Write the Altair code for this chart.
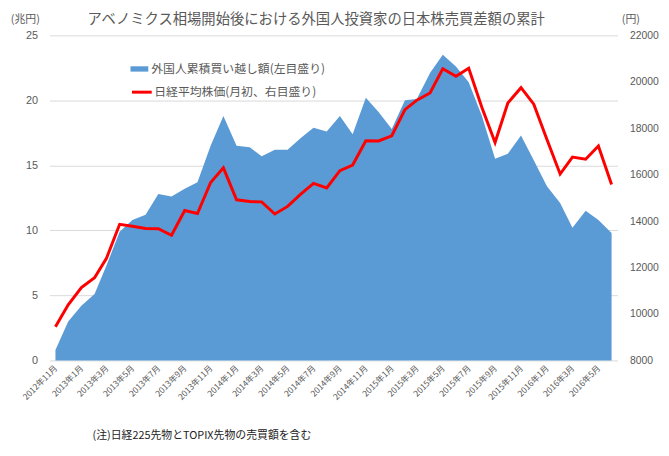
import altair as alt
import pandas as pd

# ---- data ----
months = [
    "2012-11", "2012-12",
    "2013-01", "2013-02", "2013-03", "2013-04", "2013-05", "2013-06",
    "2013-07", "2013-08", "2013-09", "2013-10", "2013-11", "2013-12",
    "2014-01", "2014-02", "2014-03", "2014-04", "2014-05", "2014-06",
    "2014-07", "2014-08", "2014-09", "2014-10", "2014-11", "2014-12",
    "2015-01", "2015-02", "2015-03", "2015-04", "2015-05", "2015-06",
    "2015-07", "2015-08", "2015-09", "2015-10", "2015-11", "2015-12",
    "2016-01", "2016-02", "2016-03", "2016-04", "2016-05", "2016-06",
]

# cumulative net purchases by foreign investors (trillion yen, left axis)
foreign_cum = [
    0.8, 3.0, 4.2, 5.1, 7.3, 9.9, 10.8, 11.2, 12.8, 12.6, 13.2, 13.7,
    16.5, 18.8, 16.5, 16.4, 15.7, 16.2, 16.2, 17.1, 17.9, 17.6, 18.8, 17.4,
    20.2, 19.1, 17.8, 20.0, 20.1, 22.1, 23.5, 22.6, 21.4, 18.8, 15.5, 15.9,
    17.3, 15.4, 13.4, 12.1, 10.2, 11.5, 10.8, 9.8,
]

# Nikkei average (yen, right axis)
nikkei = [
    9446, 10395, 11139, 11559, 12398, 13861, 13775, 13677, 13668, 13389,
    14456, 14328, 15662, 16291, 14915, 14841, 14828, 14304, 14632, 15162,
    15621, 15425, 16174, 16414, 17460, 17451, 17674, 18798, 19207, 19520,
    20563, 20236, 20585, 18890, 17388, 19083, 19747, 19034, 17518, 16027,
    16759, 16666, 17235, 15576,
]

left_ticks = [0, 5, 10, 15, 20, 25]
right_ticks = [8000, 10000, 12000, 14000, 16000, 18000, 20000, 22000]
x_tick_months = [(2012, 11), (2013, 1), (2013, 3), (2013, 5), (2013, 7), (2013, 9),
                 (2013, 11), (2014, 1), (2014, 3), (2014, 5), (2014, 7), (2014, 9),
                 (2014, 11), (2015, 1), (2015, 3), (2015, 5), (2015, 7), (2015, 9),
                 (2015, 11), (2016, 1), (2016, 3), (2016, 5)]

TITLE = "アベノミクス相場開始後における外国人投資家の日本株売買差額の累計"
AREA_LABEL = "外国人累積買い越し額(左目盛り)"
LINE_LABEL = "日経平均株価(月初、右目盛り)"
FOOTNOTE = "(注)日経225先物とTOPIX先物の売買額を含む"

df = pd.DataFrame({
    "month": [m + "-01T00:00:00" for m in months],
    "foreign": foreign_cum,
    "nikkei": nikkei,
    "s1": AREA_LABEL,
    "s2": LINE_LABEL,
})
title_df = pd.DataFrame({"t": [TITLE]})

JP = "Noto Sans CJK JP"
NUM = "Liberation Sans"
GREY = "#595959"

x = alt.X(
    "month:T",
    scale=alt.Scale(domain=[alt.DateTime(year=2012, month=10, date=18),
                            alt.DateTime(year=2016, month=6, date=15)]),
    axis=alt.Axis(
        values=[alt.DateTime(year=y, month=m, date=1) for y, m in x_tick_months],
        format="%Y年%-m月",
        labelAngle=315, labelAlign="right", labelBaseline="middle",
        labelFont=JP, labelFontSize=8.5, labelColor=GREY, labelPadding=6,
        labelOverlap=False, labelFlush=False,
        domain=False, ticks=False, grid=False,
        title=FOOTNOTE, titleX=43, titleY=76, titleAlign="left",
        titleBaseline="middle", titleFont=JP, titleFontSize=11,
        titleFontWeight="normal", titleColor="#222222",
    ),
)

area = alt.Chart(df).mark_area(opacity=1).encode(
    x=x,
    y=alt.Y(
        "foreign:Q",
        scale=alt.Scale(domain=[0, 25], nice=False),
        axis=alt.Axis(
            values=left_ticks, grid=True, gridColor="#d9d9d9", gridWidth=1,
            domain=False, ticks=False, labelFont=NUM, labelFontSize=11,
            labelColor=GREY, labelPadding=12,
            title="(兆円)", titleAngle=0, titleX=-25, titleY=-16,
            titleAlign="center", titleBaseline="middle", titleFont=JP,
            titleFontSize=11, titleFontWeight="normal", titleColor=GREY,
        ),
    ),
    fill=alt.Fill(
        "s1:N",
        scale=alt.Scale(range=["#5B9BD5"]),
        legend=alt.Legend(
            title=None, orient="none", legendX=82, legendY=25,
            symbolType="M-1,-0.3H1V0.3H-1Z", symbolSize=324,
            symbolStrokeWidth=0, symbolOpacity=1,
            labelFont=JP, labelFontSize=12, labelColor=GREY, labelOffset=3,
            labelLimit=0, padding=0,
        ),
    ),
)

line = alt.Chart(df).mark_line(strokeWidth=3).encode(
    x=x,
    y=alt.Y(
        "nikkei:Q",
        scale=alt.Scale(domain=[8000, 22000], nice=False),
        axis=alt.Axis(
            orient="right", values=right_ticks, format="d", grid=False,
            domain=False, ticks=False, labelFont=NUM, labelFontSize=10.5,
            labelColor=GREY, labelPadding=12,
            title="(円)", titleAngle=0, titleX=13, titleY=-16,
            titleAlign="center", titleBaseline="middle", titleFont=JP,
            titleFontSize=11, titleFontWeight="normal", titleColor=GREY,
        ),
    ),
    stroke=alt.Stroke(
        "s2:N",
        scale=alt.Scale(range=["#FF0000"]),
        legend=alt.Legend(
            title=None, orient="none", legendX=82, legendY=46,
            symbolType="stroke", symbolSize=400, symbolStrokeWidth=3,
            labelFont=JP, labelFontSize=12, labelColor=GREY, labelOffset=1,
            labelLimit=0, padding=0,
        ),
    ),
)

title_text = alt.Chart(title_df).mark_text(
    font=JP, fontSize=14.5, color=GREY, align="center", baseline="middle",
).encode(text="t:N", x=alt.value(270), y=alt.value(-16))

chart = alt.layer(area, line, title_text).resolve_scale(y="independent").properties(
    width=575,
    height=329,
    autosize=alt.AutoSizeParams(type="none"),
    padding={"left": 42, "top": 25, "right": 44, "bottom": 86},
    background="white",
).configure_view(stroke=None)

chart.save("out.html", embed_options={"renderer": "svg", "actions": False})
